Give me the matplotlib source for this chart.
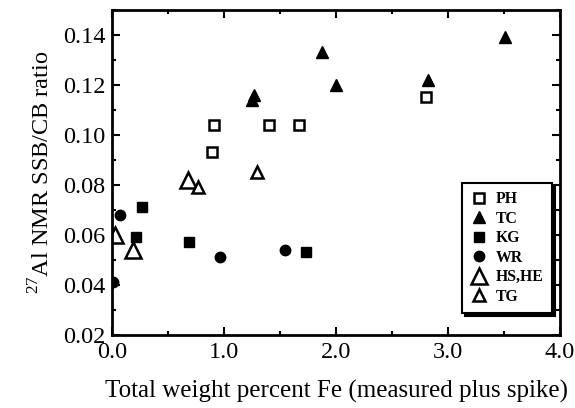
import matplotlib.pyplot as plt
from matplotlib.ticker import MultipleLocator

plt.rcParams['font.family'] = ['Liberation Serif', 'DejaVu Serif']
plt.rcParams['mathtext.fontset'] = 'custom'
plt.rcParams['mathtext.rm'] = 'Liberation Serif'

# Datos
ph_x = [0.89, 0.91, 1.40, 1.67, 2.80]
ph_y = [0.093, 0.104, 0.104, 0.104, 0.115]

tc_x = [1.25, 1.27, 1.87, 2.00, 2.82, 3.51]
tc_y = [0.114, 0.116, 0.133, 0.120, 0.122, 0.139]

kg_x = [0.21, 0.27, 0.69, 1.73]
kg_y = [0.059, 0.071, 0.057, 0.053]

wr_x = [0.01, 0.07, 0.96, 1.54]
wr_y = [0.041, 0.068, 0.051, 0.054]

hs_x = [0.03, 0.19, 0.68]
hs_y = [0.060, 0.054, 0.082]

tg_x = [0.77, 1.29]
tg_y = [0.079, 0.085]

fig = plt.figure(figsize=(5.75, 4.08), dpi=100)
ax = fig.add_axes([0.195, 0.179, 0.779, 0.797])

ax.plot(ph_x, ph_y, 's', mfc='white', mec='black', mew=1.8, ms=6.5, label='PH')
ax.plot(tc_x, tc_y, '^', color='black', ms=9, label='TC')
ax.plot(kg_x, kg_y, 's', color='black', ms=7.5, label='KG')
ax.plot(wr_x, wr_y, 'o', color='black', ms=7.5, label='WR')
ax.plot(hs_x, hs_y, '^', mfc='white', mec='black', mew=1.8, ms=11, label='HS,HE')
ax.plot(tg_x, tg_y, '^', mfc='white', mec='black', mew=1.8, ms=9, label='TG')

ax.set_xlim(0, 4.0)
ax.set_ylim(0.02, 0.15)
ax.xaxis.set_minor_locator(MultipleLocator(0.5))
ax.yaxis.set_minor_locator(MultipleLocator(0.01))
ax.set_xticks([0, 1, 2, 3, 4])
ax.set_xticklabels(['0.0', '1.0', '2.0', '3.0', '4.0'])
ax.set_yticks([0.02, 0.04, 0.06, 0.08, 0.10, 0.12, 0.14])
ax.set_yticklabels(['0.02', '0.04', '0.06', '0.08', '0.10', '0.12', '0.14'])

ax.tick_params(which='both', direction='in', top=True, right=True, labelsize=17.5, width=1.5)
ax.tick_params(which='major', length=6, pad=5)
ax.tick_params(which='minor', length=3)
for s in ax.spines.values():
    s.set_linewidth(2)

ax.set_xlabel('Total weight percent Fe (measured plus spike)', fontsize=18, labelpad=12)
ax.set_ylabel('$^{27}$Al NMR SSB/CB ratio', fontsize=17.5, labelpad=6)

leg = ax.legend(loc='lower right', bbox_to_anchor=(1.0, 0.043), fancybox=False,
                shadow={'color': 'black', 'alpha': 1},
                edgecolor='black', framealpha=1, handlelength=1.0, handletextpad=0.6,
                labelspacing=0.22, borderpad=0.55, prop={'weight': 'bold', 'size': 11.3})
leg.get_frame().set_linewidth(1.5)

fig.savefig('out.png', dpi=100)
